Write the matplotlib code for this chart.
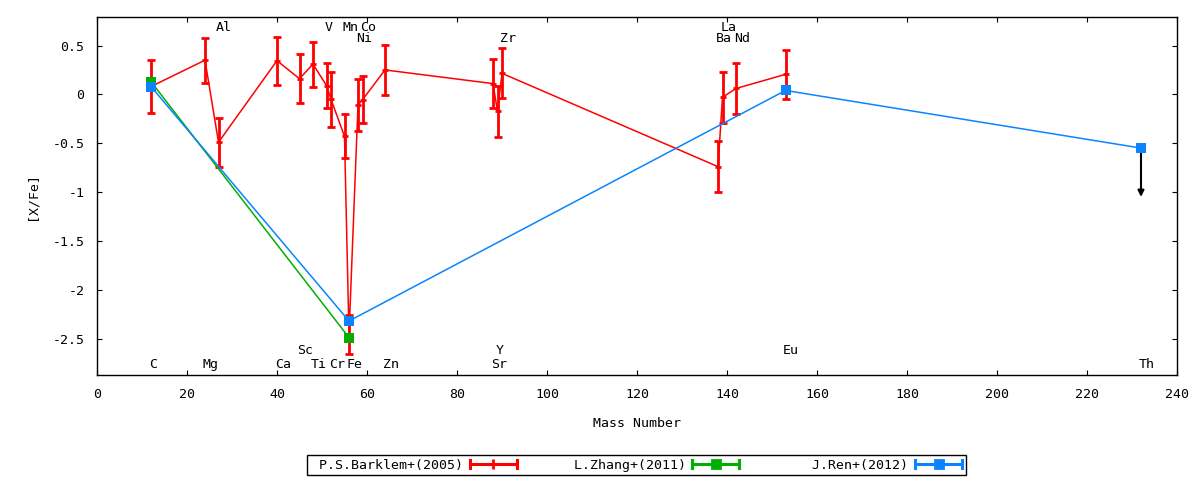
import matplotlib
matplotlib.use('Agg')
from matplotlib import pyplot as plt
from matplotlib.lines import Line2D
from matplotlib.legend_handler import HandlerBase
import matplotlib.ticker


# P.S.Barklem+(2005), element by element in mass order
elements = ['C', 'Mg', 'Al', 'Ca', 'Sc', 'Ti', 'V', 'Cr', 'Mn', 'Fe',
            'Ni', 'Co', 'Zn', 'Sr', 'Y', 'Zr', 'Ba', 'La', 'Nd', 'Eu']
mass = [12, 24, 27, 40, 45, 48, 51, 52, 55, 56,
        58, 59, 64, 88, 89, 90, 138, 139, 142, 153]
barklem = [0.08, 0.35, -0.49, 0.345, 0.16, 0.31, 0.09, -0.05, -0.43, -2.46,
           -0.11, -0.055, 0.25, 0.11, -0.175, 0.215, -0.74, -0.03, 0.06, 0.205]
barklem_err = [0.27, 0.23, 0.25, 0.245, 0.25, 0.23, 0.23, 0.28, 0.225, 0.20,
               0.27, 0.24, 0.255, 0.25, 0.26, 0.255, 0.26, 0.26, 0.26, 0.25]

# L.Zhang+(2011)
zhang_mass = [12, 56]
zhang = [0.13, -2.49]

# J.Ren+(2012), Th is an upper limit
ren_mass = [12, 56, 153, 232]
ren = [0.08, -2.32, 0.04, -0.55]
th_limit_len = 0.5

# element labels: name, mass, row
label_names = elements + ['Th']
label_mass = mass + [232]
label_row = ['b2', 'b2', 't1', 'b2', 'b1', 'b2', 't1', 'b2', 't1', 'b2',
             't2', 't1', 'b2', 'b2', 'b1', 't2', 't2', 't1', 't2', 'b1', 'b2']
row_y = {'t1': 0.685, 't2': 0.57, 'b1': -2.62, 'b2': -2.77}

RED = '#ff0000'
GREEN = '#00b000'
BLUE = '#0a84ff'

plt.rcParams['font.family'] = 'DejaVu Sans Mono'
plt.rcParams['font.size'] = 9.5


class ErrKey(HandlerBase):
	# gnuplot style key sample: horizontal bar with end caps
	def create_artists(self, legend, orig_handle, xdescent, ydescent, width, height, fontsize, trans):
		c = orig_handle.get_color()
		y = height / 2.0 - ydescent
		x0 = -xdescent
		x1 = -xdescent + width
		cap = height * 0.42
		arts = [Line2D([x0, x1], [y, y], color=c, lw=2.2, solid_capstyle='butt'),
			Line2D([x0, x0], [y - cap, y + cap], color=c, lw=2.2),
			Line2D([x1, x1], [y - cap, y + cap], color=c, lw=2.2),
			Line2D([(x0 + x1) / 2.0], [y], color=c, marker=orig_handle.get_marker(),
				markersize=orig_handle.get_markersize(), mew=2.0, linestyle='none')]
		for a in arts:
			a.set_transform(trans)
		return arts


fig = plt.figure(figsize=(12, 4.8), dpi=100)
ax = fig.add_axes([97 / 1200, 1 - 375.3 / 480, 1080 / 1200, 358.6 / 480])

ax.plot(mass, barklem, color=RED, lw=1.1, zorder=2)
ax.errorbar(mass, barklem, yerr=barklem_err, fmt='none', ecolor=RED,
            elinewidth=2.0, capsize=2.6, capthick=2.0, zorder=2)
ax.plot(mass, barklem, linestyle='none', marker='_', color=RED,
        markersize=5, mew=2.0, zorder=2)

ax.plot(zhang_mass, zhang, color=GREEN, lw=1.1, marker='s', markersize=7.5,
        mew=0, zorder=3)
ax.plot(ren_mass, ren, color=BLUE, lw=1.1, marker='s', markersize=7.5,
        mew=0, zorder=4)

ax.annotate('', xy=(ren_mass[-1], ren[-1] - th_limit_len), xytext=(ren_mass[-1], ren[-1]),
            arrowprops=dict(arrowstyle='-|>', color='k', lw=1.5, mutation_scale=9,
                            shrinkA=0, shrinkB=0), zorder=3)

for name, m, r in zip(label_names, label_mass, label_row):
	ax.text(m - 0.5, row_y[r], name, ha='left', va='center', zorder=5)

ax.set_xlim(0, 240)
ax.set_ylim(-2.876, 0.795)
ax.set_xticks(range(0, 241, 20))
ax.set_yticks([-2.5, -2, -1.5, -1, -0.5, 0, 0.5])
ax.yaxis.set_major_formatter(matplotlib.ticker.FuncFormatter(lambda v, p: '%g' % v))
ax.tick_params(direction='in', top=True, right=True, length=3.3, width=0.8, pad=9)
for s in ax.spines.values():
	s.set_linewidth(1.0)

ax.set_xlabel('Mass Number')
ax.set_ylabel('[X/Fe]')
ax.xaxis.set_label_coords(0.5, -0.115)
ax.yaxis.set_label_coords(-0.054, 0.5)

handles = [Line2D([], [], color=RED, marker='|', markersize=7),
           Line2D([], [], color=GREEN, marker='s', markersize=6),
           Line2D([], [], color=BLUE, marker='s', markersize=6)]
labels = [' P.S.Barklem+(2005)', '     L.Zhang+(2011)', '       J.Ren+(2012)']
leg = fig.legend(handles, labels, loc='center', bbox_to_anchor=(636.5 / 1200, 1 - 465 / 480),
                 ncol=3, handler_map={Line2D: ErrKey()}, markerfirst=False,
                 fancybox=False, edgecolor='k', framealpha=1, borderpad=0.3,
                 handlelength=3.56, handletextpad=0.5, columnspacing=1.3, borderaxespad=0)
leg.get_frame().set_linewidth(1.0)

fig.savefig('out.png', dpi=100)
